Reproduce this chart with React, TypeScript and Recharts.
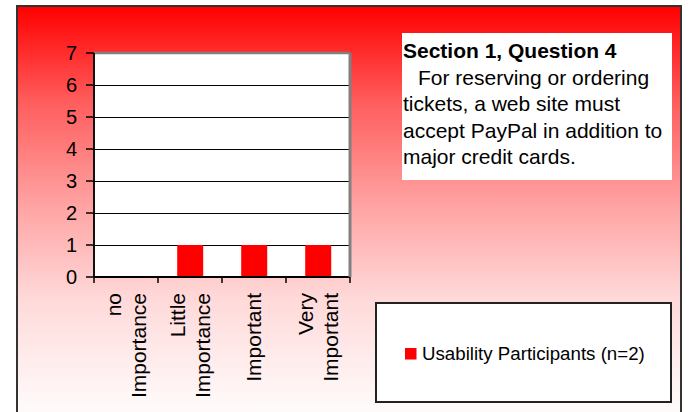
import React from "react";
import { BarChart, Bar, XAxis, YAxis, CartesianGrid, ReferenceLine } from "recharts";

const categories = ["no Importance", "Little Importance", "Important", "Very Important"];
const participants = [0, 1, 1, 1];
const yTicks = [0, 1, 2, 3, 4, 5, 6, 7];
const seriesName = "Usability Participants (n=2)";
const titleHeading = "Section 1, Question 4";
const titleBody = [
  "For reserving or ordering",
  "tickets, a web site must",
  "accept PayPal in addition to",
  "major credit cards.",
];

const data = categories.map((name, i) => ({ name, value: participants[i] }));

const FONT = '"Liberation Sans", Arial, Helvetica, sans-serif';
const RED = "#ff0000";
const X_TICK_SIZE = 6;
const X_TICK_MARGIN = 10;

const XTick = (props: any) => {
  const { x, y, payload, index, visibleTicksCount, width } = props;
  const words: string[] = String(payload.value).split(" ");
  const n = words.length;
  const half =
    payload && typeof payload.offset === "number" && payload.offset > 0
      ? payload.offset
      : width / visibleTicksCount / 2;
  const axisY = y - X_TICK_SIZE - X_TICK_MARGIN;
  const isLast = index === visibleTicksCount - 1;
  return (
    <g>
      <line x1={x - half} x2={x - half} y1={axisY} y2={axisY + X_TICK_SIZE} stroke="#000" strokeWidth={1.5} />
      {isLast && (
        <line x1={x + half} x2={x + half} y1={axisY} y2={axisY + X_TICK_SIZE} stroke="#000" strokeWidth={1.5} />
      )}
      <text
        transform={`rotate(-90, ${x}, ${y})`}
        textAnchor="end"
        fontSize={21}
        fontFamily={FONT}
        fill="#000"
      >
        {words.map((w, i) => (
          <tspan key={i} x={x} y={y + 7 + (i - (n - 1) / 2) * 25}>
            {w}
          </tspan>
        ))}
      </text>
    </g>
  );
};

export default function App() {
  return (
    <div
      style={{
        position: "absolute",
        left: 0,
        top: 0,
        width: 690,
        height: 412,
        overflow: "hidden",
        background: "#fff",
        fontFamily: FONT,
      }}
    >
      <div
        style={{
          position: "absolute",
          left: 16,
          top: 5,
          width: 666,
          height: 430,
          boxSizing: "border-box",
          border: "2px solid #333",
          background:
            "linear-gradient(to bottom, #ff0000 0px, #ff5c5c 94px, #ffa0a0 194px, #ffdada 294px, #fff8f8 394px, #ffffff 428px)",
        }}
      />
      <div style={{ position: "absolute", left: 0, top: 0 }}>
        <BarChart
          width={690}
          height={412}
          data={data}
          margin={{ top: 53, right: 339, bottom: 10, left: 34 }}
          barCategoryGap="30%"
        >
          <CartesianGrid
            vertical={false}
            stroke="#000"
            strokeWidth={1}
            fill="#fff"
            fillOpacity={1}
            shapeRendering="crispEdges"
          />
          <XAxis
            dataKey="name"
            axisLine={{ stroke: "#000", strokeWidth: 2 }}
            tickLine={false}
            interval={0}
            height={125}
            tickSize={X_TICK_SIZE}
            tickMargin={X_TICK_MARGIN}
            tick={<XTick />}
          />
          <YAxis
            domain={[0, 7]}
            ticks={yTicks}
            interval={0}
            width={60}
            tickSize={8}
            tickMargin={9}
            axisLine={{ stroke: "#111", strokeWidth: 2 }}
            tickLine={{ stroke: "#000", strokeWidth: 1.5 }}
            tick={{ fill: "#000", fontSize: 20, fontFamily: FONT }}
          />
          <YAxis
            yAxisId="r"
            orientation="right"
            domain={[0, 7]}
            tick={false}
            tickLine={false}
            axisLine={{ stroke: "#808080", strokeWidth: 3 }}
            width={1}
          />
          <ReferenceLine y={7} stroke="#808080" strokeWidth={2.5} />
          <Bar dataKey="value" fill={RED} name={seriesName} isAnimationActive={false} />
        </BarChart>
      </div>
      <svg
        width={690}
        height={412}
        style={{ position: "absolute", left: 0, top: 0, pointerEvents: "none" }}
      >
        <rect x={402} y={33} width={270} height={147} fill="#fff" />
        <text x={403} y={58} fontSize={21} fontWeight="bold" fontFamily={FONT} fill="#000">
          {titleHeading}
        </text>
        {titleBody.map((line, i) => (
          <text
            key={i}
            x={i === 0 ? 418 : 403}
            y={84.5 + i * 26.5}
            fontSize={21}
            fontFamily={FONT}
            fill="#000"
          >
            {line}
          </text>
        ))}
        <rect x={376} y={303} width={295} height={99} fill="#fff" stroke="#222" strokeWidth={2} />
        <rect x={405} y={348} width={11.5} height={11.5} fill={RED} />
        <text x={422} y={360} fontSize={18.7} fontFamily={FONT} fill="#000">
          {seriesName}
        </text>
      </svg>
    </div>
  );
}
